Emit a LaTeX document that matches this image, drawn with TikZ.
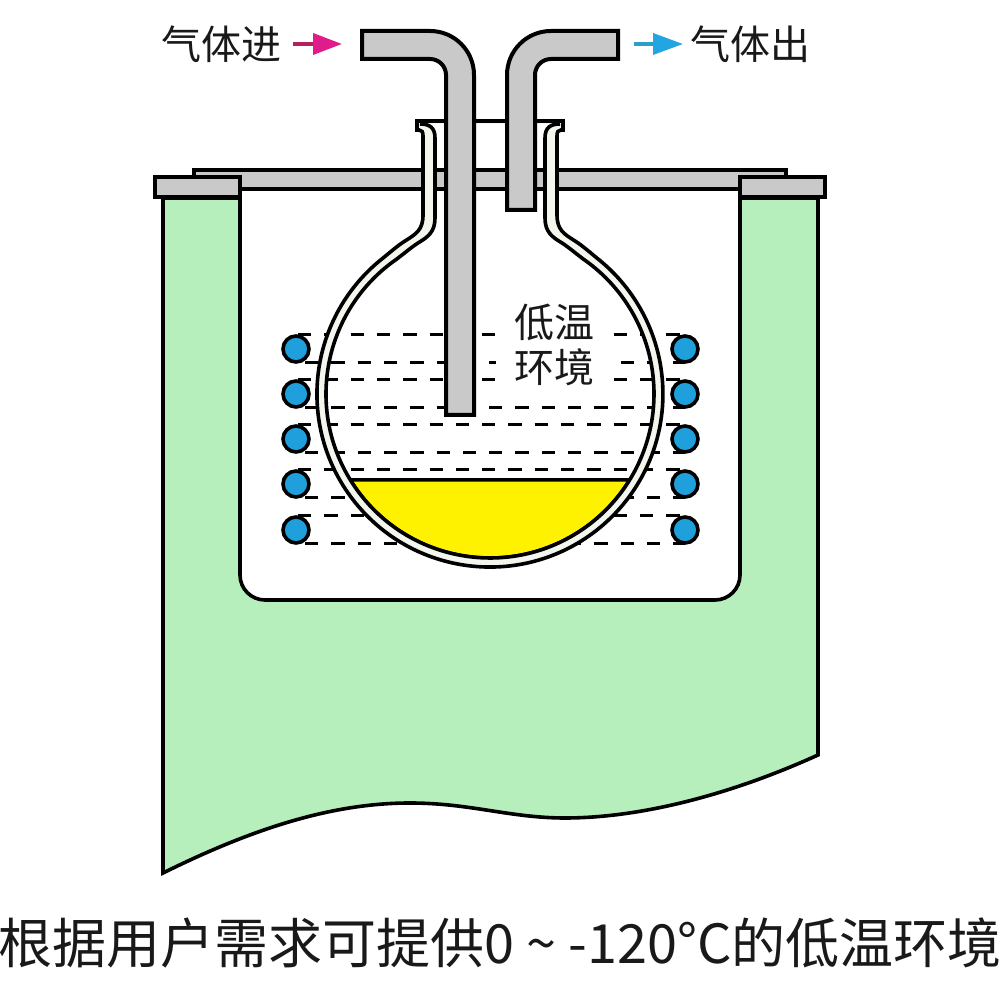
\documentclass[tikz,border=0pt]{standalone}
\usepackage{fontspec}
\newfontfamily\cjk{Noto Sans CJK SC}
\usetikzlibrary{calc}
\usetikzlibrary{arrows.meta}
\definecolor{bathgreen}{HTML}{B6EEBC}
\definecolor{tubegray}{HTML}{C9C9C9}
\definecolor{coilblue}{HTML}{1F9FDC}
\definecolor{liquidyellow}{HTML}{FFF200}
\definecolor{wallwhite}{HTML}{F3F6EC}
\definecolor{inpink}{HTML}{E01C8C}
\definecolor{inshaft}{HTML}{B5205F}
\definecolor{outblue}{HTML}{22A5E0}
\definecolor{outshaft}{HTML}{2A9FC8}
\tikzset{
  x=1pt, y=1pt,
  outline/.style={draw=black, line width=4pt, line join=miter},
  tube/.style={outline, fill=tubegray},
  coil/.style={circle, draw=black, line width=3.6pt, fill=coilblue, inner sep=0pt, minimum size=26pt, outer sep=1pt},
  coolant/.style={black, line width=3pt, dash pattern=on 13.3pt off 13pt},
  label/.style={font=\cjk\fontsize{40}{45}\selectfont, text=black!90, inner sep=0pt},
}
\begin{document}
\begin{tikzpicture}
\useasboundingbox (0,0) rectangle (1000,1000);
\fill[white] (0,0) rectangle (1000,1000);

%%%%%%%%%%%%%%%%%%%%%%%%%%%%%%%%%%%%%%%%%%%%%%%%%%%%%%%%%%%%%% bath
\draw[outline, fill=bathgreen, line width=3.6pt] (163,802) -- (163,127)
  .. controls (250,170) and (330,197) .. (410,197)
  .. controls (470,197) and (510,182) .. (565,182)
  .. controls (640,182) and (730,205) .. (818,245)
  -- (818,802) -- (740,802) -- (740,425) arc (0:-90:25pt) -- (265,400) arc (270:180:25pt) -- (240,802) -- cycle;

%%%%%%%%%%%%%%%%%%%%%%%%%%%%%%%%%%%%%%%%%%%%%%%%%%%%%%%%%%%%%% coils
\foreach \i/\y in {1/651, 2/606, 3/561, 4/516, 5/470}{
  \node[coil] (coilL\i) at (296,\y) {};
  \node[coil] (coilR\i) at (685,\y) {};
  \draw[coolant, dash phase=-2pt] (coilL\i.north) -- (coilR\i.north);
  \draw[coolant, dash phase=17.3pt] (coilL\i.south) -- (coilR\i.south);
}

%%%%%%%%%%%%%%%%%%%%%%%%%%%%%%%%%%%%%%%%%%%%%%%%%%%%%%%%%%%%%% flask contents
\coordinate (C) at (490,606);
\draw[outline, fill=liquidyellow, line width=3.4pt] ($(C)+(211.6:164pt)$) arc (211.6:328.4:164pt) -- cycle;
\node[label, fill=white, minimum width=116pt, minimum height=88pt, align=center] (cold) at (554,655) {低温\\环境};

%%%%%%%%%%%%%%%%%%%%%%%%%%%%%%%%%%%%%%%%%%%%%%%%%%%%%%%%%%%%%% lid
\draw[tube] (194,830) rectangle (786,810.5);
\draw[tube] (155,823) rectangle (240,803);
\draw[tube] (740,823) rectangle (825,803);

%%%%%%%%%%%%%%%%%%%%%%%%%%%%%%%%%%%%%%%%%%%%%%%%%%%%%%%%%%%%%% flask wall
\draw[outline, fill=wallwhite, even odd rule, line width=3.6pt]
  (417,879) -- (417,870) -- (419,870) .. controls (422,870) and (423,868) .. (423,864) -- (423,785)
  .. controls (423,770) and (416,766) .. (405,759) .. controls (397,754) and (390,747.5) .. (380.6,740)
  arc (129.2:410.8:173pt)
  .. controls (590,747.5) and (583,754) .. (575,759) .. controls (564,766) and (557,770) .. (557,785)
  -- (557,864) .. controls (557,868) and (558,870) .. (561,870) -- (563,870) -- (563,879) -- cycle
  (420,876) .. controls (430,876) and (435,872) .. (435,862) -- (435,782)
  .. controls (435,768) and (428,763) .. (418,757) .. controls (411,752.5) and (403,745.5) .. (395.7,740.2)
  arc (125.1:414.9:164pt)
  .. controls (577,745.5) and (569,752.5) .. (562,757) .. controls (552,763) and (545,768) .. (545,782)
  -- (545,862) .. controls (545,872) and (550,876) .. (560,876);

%%%%%%%%%%%%%%%%%%%%%%%%%%%%%%%%%%%%%%%%%%%%%%%%%%%%%%%%%%%%%% tubes
\draw[tube] (362,969) -- (430,969) arc (90:0:44pt) -- (474,585) -- (446,585) -- (446,925) arc (0:90:16pt) -- (362,941) -- cycle;
\draw[tube] (618,969) -- (551,969) arc (90:180:44pt) -- (507,790) -- (535,790) -- (535,925) arc (180:90:16pt) -- (618,941) -- cycle;

%%%%%%%%%%%%%%%%%%%%%%%%%%%%%%%%%%%%%%%%%%%%%%%%%%%%%%%%%%%%%% gas labels
\node[label] (gasin) at (221,956) {气体进};
\node[label] (gasout) at (750,956) {气体出};
\coordinate (inTail) at (293,956);
\coordinate (inTip) at (342,956);
\coordinate (outTail) at (634,956);
\coordinate (outTip) at (683,956);
\draw[inshaft, line width=3.6pt, -{Triangle[length=29pt,width=21pt,color=inpink]}] (inTail) -- (inTip);
\draw[outshaft, line width=3.6pt, -{Triangle[length=30pt,width=21pt,color=outblue]}] (outTail) -- (outTip);

%%%%%%%%%%%%%%%%%%%%%%%%%%%%%%%%%%%%%%%%%%%%%%%%%%%%%%%%%%%%%% caption
\node[label, font=\cjk\fontsize{54}{60}\selectfont] (caption) at (500,57) {根据用户需求可提供0 \textasciitilde{} -120°C的低温环境};

\end{tikzpicture}
\end{document}
